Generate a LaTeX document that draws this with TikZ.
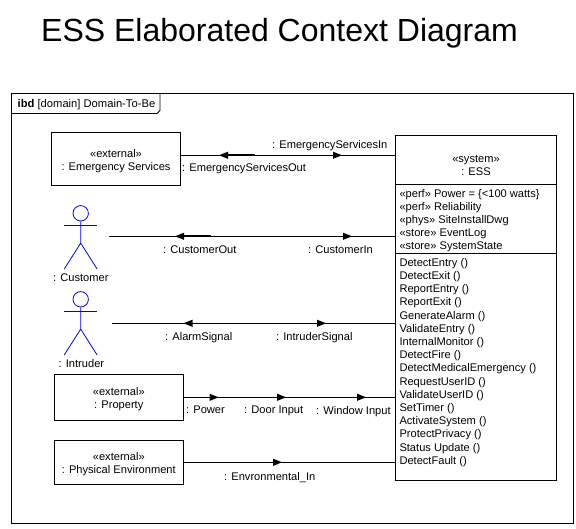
\documentclass[tikz,border=0pt]{standalone}
\usepackage{fontspec}
\setmainfont{Liberation Sans}
\newcommand{\hdR}[1]{\fill (#1) ++(0,3.6) -- ++(9,-3.6) -- ++(-9,-3.6) -- cycle;}
\newcommand{\hdL}[1]{\fill (#1) ++(0,3.6) -- ++(-9,-3.6) -- ++(9,-3.6) -- cycle;}
\newcommand{\hdLT}[1]{\hdL{#1}\draw[line width=2pt] (#1) -- ++(27,0);}
\newcommand{\toppad}{\rule{0pt}{12.5pt}}
\tikzset{
  x=1pt,y=-1pt,
  box/.style={draw,line width=0.8pt,minimum width=129pt,inner sep=0pt,align=center,font=\fontsize{11.1}{13}\selectfont},
  wire/.style={line width=0.8pt},
  lbl/.style={anchor=base west,inner sep=0pt,font=\fontsize{11.1}{13}\selectfont},
  actor/.style={draw=blue!90!black,line width=0.8pt},
}
\begin{document}
\begin{tikzpicture}
\useasboundingbox (0,0) rectangle (576,529);
\node[lbl,font=\fontsize{32}{36}\selectfont] (title) at (41,42) {ESS Elaborated Context Diagram};
% frame
\draw[line width=0.8pt] (11,93) rectangle (573,523);
\draw[line width=0.8pt] (11,113.5) -- (157,113.5) -- (160,110.5) -- (160,93);
\node[lbl,font=\fontsize{11.2}{13}\selectfont] (tab) at (17.5,108) {\textbf{ibd} [domain] Domain-To-Be};
% boxes
\node[box,minimum height=53pt] (es) at (116,158.8) {\toppad«external»\\: Emergency Services};
\node[box,minimum height=46pt] (prop) at (118.8,397.3) {\toppad«external»\\: Property};
\node[box,minimum height=44.5pt] (phys) at (118.8,462.3) {\toppad«external»\\: Physical Environment};
\node[draw,line width=0.8pt,minimum width=161.2pt,minimum height=345pt,inner sep=0pt] (ess) at (476.1,307.8) {};
\coordinate (d1) at (0,184.3);
\coordinate (d2) at (0,253.3);
\draw[wire] (ess.west |- d1) -- (ess.east |- d1);
\draw[wire] (ess.west |- d2) -- (ess.east |- d2);
\node[lbl,anchor=base,align=center] (esstxt) at (476,163) {«system»};
\node[lbl,anchor=base] (essname) at (476,176) {: ESS};
% ESS compartments
\foreach \t [count=\i from 0] in {«perf» Power = \{<100 watts\},«perf» Reliability,«phys» SiteInstallDwg,«store» EventLog,«store» SystemState}
  \node[lbl] (attr\i) at (399.3,197.2+13*\i) {\t};
\foreach \t [count=\i from 0] in {DetectEntry (),DetectExit (),ReportEntry (),ReportExit (),GenerateAlarm (),ValidateEntry (),InternalMonitor (),DetectFire (),DetectMedicalEmergency (),RequestUserID (),ValidateUserID (),SetTimer (),ActivateSystem (),ProtectPrivacy (),Status Update (),DetectFault ()}
  \node[lbl] (op\i) at (399.3,266.4+13.2*\i) {\t};
% actors
\foreach \n/\y in {cust/213.3,intr/299.3}{
  \node[circle,actor,minimum size=15.4pt,inner sep=0pt] (\n) at (80.7,\y) {};
  \draw[actor] (\n.south) -- ++(0,21.7) coordinate (\n hip) -- ++(-16.5,26) (\n hip) -- ++(16.5,26);
  \draw[actor] (64,\y+12.5) -- (97,\y+12.5);
}
\node[lbl] (custl) at (53,282) {: Customer};
\node[lbl] (intrl) at (58.5,368) {: Intruder};
% connectors
\coordinate (w1) at (0,155.3);
\coordinate (c2) at (109,236.3);
\coordinate (c3) at (112,323.3);
\coordinate (w4) at (0,397.3);
\coordinate (w5) at (0,462.3);
\draw[wire] (es.east |- w1) -- (ess.west |- w1);
\draw[wire] (c2) -- (ess.west |- c2);
\draw[wire] (c3) -- (ess.west |- c3);
\draw[wire] (prop.east |- w4) -- (ess.west |- w4);
\draw[wire] (phys.east |- w5) -- (ess.west |- w5);
% heads
\hdLT{228,155.3}
\hdR{333,155.3}
\hdLT{184,236.3}
\hdR{343,236.3}
\hdL{192.5,323.3}
\hdR{317,323.3}
\hdR{209.5,397.3}
\hdR{277,397.3}
\hdR{357,397.3}
\hdR{273,462.3}
% connector labels
\node[lbl] at (272,149) {: EmergencyServicesIn};
\node[lbl] at (182,172) {: EmergencyServicesOut};
\node[lbl] at (163,254) {: CustomerOut};
\node[lbl] at (308,254) {: CustomerIn};
\node[lbl] at (165,340.5) {: AlarmSignal};
\node[lbl] at (276,340.5) {: IntruderSignal};
\node[lbl] at (186,413.5) {: Power};
\node[lbl] at (244,413.5) {: Door Input};
\node[lbl] at (316,414.5) {: Window Input};
\node[lbl] at (224,480.5) {: Envronmental\_In};
\end{tikzpicture}
\end{document}
